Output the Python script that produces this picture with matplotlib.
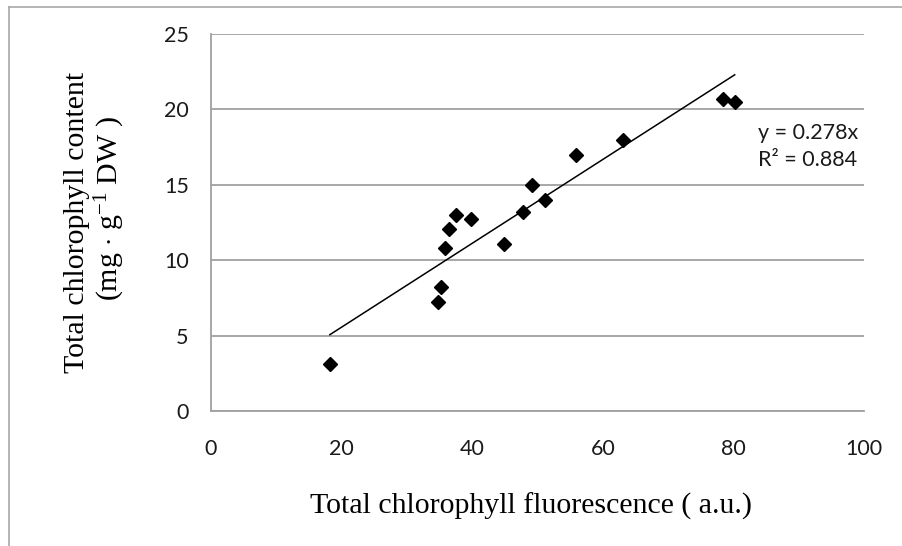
import matplotlib
matplotlib.use("Agg")
import matplotlib.pyplot as plt
import numpy as np
from matplotlib.lines import Line2D

# data
fluorescence = [18.2, 34.8, 35.2, 35.8, 36.4, 37.5, 39.8, 44.9, 47.8,
                49.2, 51.1, 55.9, 63.1, 78.4, 80.2]
chlorophyll = [3.1, 7.2, 8.2, 10.8, 12.1, 13.0, 12.7, 11.1, 13.2,
               15.0, 14.0, 17.0, 18.0, 20.7, 20.5]
slope = 0.278
r_squared = 0.884
x_ticks = [0, 20, 40, 60, 80, 100]
y_ticks = [0, 5, 10, 15, 20, 25]

plt.rcParams['mathtext.fontset'] = 'custom'
plt.rcParams['mathtext.rm'] = 'Liberation Serif'
plt.rcParams['mathtext.it'] = 'Liberation Serif:italic'

fig = plt.figure(figsize=(9.02, 5.46), dpi=100)
ax = fig.add_axes([211 / 902, 1 - 411 / 546, (864 - 211) / 902, (411 - 34) / 546])

grid_col = '#a0a0a0'
text_col = '#1a1a1a'
ax.set_xlim(0, 100)
ax.set_ylim(0, 25)
ax.set_xticks(x_ticks)
ax.set_yticks(y_ticks)
ax.yaxis.grid(True, color=grid_col, linewidth=1.3)
ax.set_axisbelow(True)
for side in ['top', 'right']:
    ax.spines[side].set_visible(False)
for side in ['left', 'bottom']:
    ax.spines[side].set_color(grid_col)
    ax.spines[side].set_linewidth(1.3)
ax.tick_params(length=0, labelsize=15.5, colors=text_col)
ax.tick_params(axis='x', pad=20)
ax.tick_params(axis='y', pad=16)
for lab in ax.get_xticklabels() + ax.get_yticklabels():
    lab.set_family('Lato')

# linear trendline through the origin
x_fit = np.array([min(fluorescence), max(fluorescence)])
ax.plot(x_fit, slope * x_fit, color='black', linewidth=1.1, zorder=2)
ax.plot(fluorescence, chlorophyll, linestyle='none', marker='D',
        markersize=7.5, color='black', zorder=3)

fig.text(758 / 902, 1 - 133 / 546, f'y = {slope:.3f}x',
         family='Lato', fontsize=15.5, color=text_col, va='center', ha='left')
fig.text(758 / 902, 1 - 160 / 546, f'R\u00b2 = {r_squared:.3f}',
         family='Lato', fontsize=15.5, color=text_col, va='center', ha='left')

fig.text(531 / 902, 1 - 506 / 546, 'Total chlorophyll fluorescence ( a.u.)',
         family='Liberation Serif', fontsize=21.5, ha='center', va='center')
fig.text(77 / 902, 1 - 222 / 546, 'Total chlorophyll content',
         family='Liberation Serif', fontsize=21.5, ha='center', va='center',
         rotation=90)
fig.text(110 / 902, 1 - 209 / 546, r'(mg $\cdot$ g$^{-1}$ DW )',
         family='Liberation Serif', fontsize=21.5, ha='center', va='center',
         rotation=90)

# outer chart frame (only top and left edges are inside the picture)
frame_col = '#a8a8a8'
fig.add_artist(Line2D([9 / 902, 1.0], [1 - 7 / 546, 1 - 7 / 546],
                      transform=fig.transFigure, color=frame_col, linewidth=1.2))
fig.add_artist(Line2D([9 / 902, 9 / 902], [0.0, 1 - 7 / 546],
                      transform=fig.transFigure, color=frame_col, linewidth=1.2))

fig.savefig('out.png', dpi=100)
